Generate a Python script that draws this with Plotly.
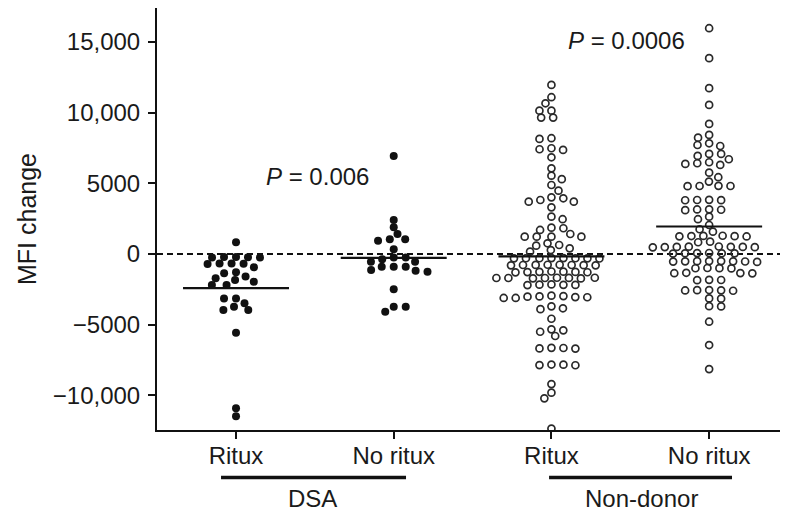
import numpy as np
import plotly.graph_objects as go

# ---------------- data ----------------
categories = ["Ritux", "No ritux", "Ritux", "No ritux"]
group_labels = ["DSA", "Non-donor"]
y_tick_values = [-10000, -5000, 0, 5000, 10000, 15000]
y_tick_labels = ["\u221210,000", "\u22125000", "0", "5000", "10,000", "15,000"]
p_labels = ["<i>P</i> = 0.006", "<i>P</i> = 0.0006"]
y_title = "MFI change"

dsa_ritux = [830, -220, -240, -230, -250, -210, -680, -670, -690, -700, -940,
             -1300, -1370, -1600, -1720, -1840, -1960, -2190, -2190, -3140,
             -3140, -3490, -3730, -3960, -3960, -5570, -10920, -11470]

dsa_no_ritux = [6940, 2410, 1890, 1420, 1040, 1040, 940, 330, -240, -240, -380,
                -550, -550, -900, -900, -900, -1130, -1180, -1250, -2500,
                -3730, -3730, -4080]

nd_ritux = [11960, 11090, 10660, 10140, 10140, 9650, 9650, 8190, 8140, 7480,
            7410, 7360, 6840, 6060, 5540, 5290, 4880, 4480, 4010, 3940, 3820,
            3700, 3700, 3300, 2640, 2460, 1860, 1820, 1700, 1415, 1225, 1225,
            1225, 1225, 757, 637, 590, 400, 280, 165,
            -290, -300, -310, -300, -320, -300, -290, -310,
            -760, -780, -790, -770, -800, -780, -760, -800,
            -1250, -1270, -1290, -1300, -1280, -1260, -1240,
            -1680, -1700, -1730, -1700, -1720, -1700, -1690, -1680,
            -2180, -2190, -2150, -2200, -2170,
            -2950, -3050, -3110, -2980, -3020, -3110, -3060, -3000,
            -3700, -3840, -3900, -4580, -5330, -5400, -5500, -5800,
            -6640, -6680, -6690, -6650, -7820, -7860, -7870, -7830,
            -9200, -9810, -10210, -12350]

nd_no_ritux = [15970, 13850, 11730, 10545, 9200, 8420, 8230, 7830, 7710, 7640,
               7080, 7080, 6935, 6700, 6490, 6420, 6370, 6300, 5750, 5430, 5120,
               4800, 4810, 4820, 4810, 3800, 3830, 3820, 3810, 3150, 3100, 3130,
               3160, 2640, 2460, 2050, 1750, 1580,
               1250, 1270, 1280, 1260, 1290, 1240, 870, 830,
               480, 510, 520, 490, 500, 470, 530, 500,
               40, 60, 30, 70, 50, 50,
               -500, -520, -540, -510, -530, -500, -520, -560,
               -990, -1020, -1010, -1000, -1330, -1360, -1350, -1370,
               -1830, -1850, -1840, -2550, -2580, -2560, -2600, -2570,
               -3140, -3160, -3690, -3710, -4790, -6440, -8140]

series = [dsa_ritux, dsa_no_ritux, nd_ritux, nd_no_ritux]

# ---------------- geometry ----------------
# the page body has an 8px default margin, so the figure is 8px smaller
W, H = 780, 504
M_L, M_R, M_T, M_B = 149, 3, 0, 82
X_RANGE = [-0.501, 3.481]
Y_RANGE = [-12450, 17400]
PLOT_W = W - M_L - M_R
PLOT_H = H - M_T - M_B
px_per_x = PLOT_W / (X_RANGE[1] - X_RANGE[0])
px_per_y = PLOT_H / (Y_RANGE[1] - Y_RANGE[0])
FONT = "Liberation Sans, Arial, Helvetica, sans-serif"


def swarm_offsets(values, sx=12.0, sy=7.0):
    """Beeswarm layout: horizontal offsets (in axis units) that avoid overlap."""
    vals = np.asarray(values, dtype=float)
    ypx = vals * px_per_y
    order = np.argsort(-vals, kind="stable")
    placed = []
    xs = np.zeros(len(vals))
    for k, i in enumerate(order):
        y = ypx[i]
        cands = [0.0]
        for (qx, qy) in placed:
            dy = abs(qy - y)
            if dy < sy:
                dx = sx * np.sqrt(1 - (dy / sy) ** 2)
                cands += [qx - dx, qx + dx]
        sgn = 1 if k % 2 == 0 else -1
        cands.sort(key=lambda c: (round(abs(c), 4), sgn * c))
        for c in cands:
            ok = True
            for (qx, qy) in placed:
                dxn = (qx - c) / sx
                dyn = (qy - y) / sy
                if dxn * dxn + dyn * dyn < 1 - 1e-6:
                    ok = False
                    break
            if ok:
                xs[i] = c
                break
        placed.append((xs[i], y))
    return xs / px_per_x


fig = go.Figure()

for i, vals in enumerate(series):
    offs = swarm_offsets(vals)
    xpos = i + offs
    if i < 2:
        marker = dict(symbol="circle", size=8, color="#111111", line=dict(width=0))
    else:
        marker = dict(symbol="circle-open", size=7, color="#2a2a2a",
                      line=dict(width=1.7, color="#2a2a2a"))
    fig.add_trace(go.Scatter(x=xpos, y=vals, mode="markers", marker=marker,
                             showlegend=False, hoverinfo="y"))
    m = float(np.mean(vals))
    hw = 0.336
    fig.add_trace(go.Scatter(x=[i - hw, i + hw], y=[m, m], mode="lines",
                             line=dict(color="#111111", width=2.2),
                             showlegend=False, hoverinfo="skip"))

shapes = [
    dict(type="line", xref="paper", yref="y", x0=0, x1=1, y0=0, y1=0,
         line=dict(color="#111111", width=2, dash="6px,4px"), layer="below"),
    dict(type="line", xref="x", yref="paper", x0=-0.095, x1=1.078,
         y0=-0.1126, y1=-0.1126, line=dict(color="#111111", width=3.5)),
    dict(type="line", xref="x", yref="paper", x0=1.985, x1=3.145,
         y0=-0.1126, y1=-0.1126, line=dict(color="#111111", width=3.5)),
]

annotations = [
    dict(text=p_labels[0], x=0.514, y=5480, xref="x", yref="y",
         showarrow=False, xanchor="center", yanchor="middle",
         font=dict(family=FONT, size=24, color="#1a1a1a")),
    dict(text=p_labels[1], x=2.476, y=15100, xref="x", yref="y",
         showarrow=False, xanchor="center", yanchor="middle",
         font=dict(family=FONT, size=24, color="#1a1a1a")),
    dict(text=group_labels[0], x=0.488, y=-0.1635, xref="x", yref="paper",
         showarrow=False, xanchor="center", yanchor="middle",
         font=dict(family=FONT, size=24, color="#1a1a1a")),
    dict(text=group_labels[1], x=2.568, y=-0.1635, xref="x", yref="paper",
         showarrow=False, xanchor="center", yanchor="middle",
         font=dict(family=FONT, size=24, color="#1a1a1a")),
    dict(text=y_title, x=0, y=0.5, xref="paper", yref="paper", xshift=-130,
         showarrow=False, xanchor="center", yanchor="middle", textangle=-90,
         font=dict(family=FONT, size=25, color="#1a1a1a")),
]

fig.update_layout(
    width=W, height=H, autosize=False,
    margin=dict(l=M_L, r=M_R, t=M_T, b=M_B, pad=0),
    paper_bgcolor="white", plot_bgcolor="white",
    shapes=shapes, annotations=annotations,
    xaxis=dict(range=X_RANGE, tickmode="array", tickvals=[0, 1, 2, 3],
               ticktext=categories, ticks="outside", ticklen=7, tickwidth=2,
               tickcolor="#111111", showline=True, linewidth=2,
               linecolor="#111111", showgrid=False, zeroline=False,
               ticklabelstandoff=-4,
               tickfont=dict(family=FONT, size=24, color="#1a1a1a")),
    yaxis=dict(range=Y_RANGE, tickmode="array", tickvals=y_tick_values,
               ticktext=y_tick_labels, ticks="outside", ticklen=7, tickwidth=2,
               tickcolor="#111111", showline=True, linewidth=2,
               linecolor="#111111", showgrid=False, zeroline=False,
               ticklabelstandoff=3,
               tickfont=dict(family=FONT, size=24, color="#1a1a1a")),
)

fig.write_html("out.html")
